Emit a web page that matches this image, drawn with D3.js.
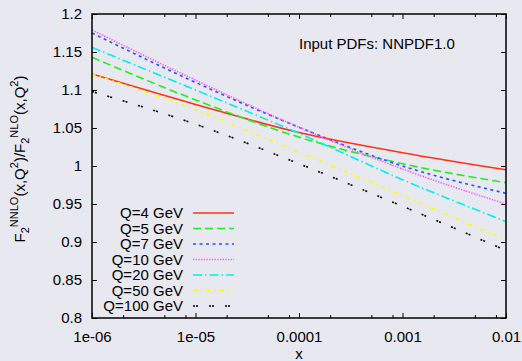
<!DOCTYPE html>
<html>
<head>
<meta charset="utf-8">
<script src="https://cdn.jsdelivr.net/npm/d3@7"></script>
<style>
  body { margin: 0; background: #e8e8f0; }
  svg { display: block; font-family: "Liberation Sans", Arial, Helvetica, sans-serif; }
  .axis path { display: none; }
  .axis line { stroke: #000; stroke-width: 1; }
  .axis text { font-size: 15px; fill: #000; }
</style>
</head>
<body>
<svg id="chart" width="522" height="361"></svg>
<script>
// sample points (x) and ratio values per Q
const xs = [1e-6, 1e-5, 1e-4, 1e-3, 1e-2];
const q4 = [1.121, 1.081, 1.044, 1.0175, 0.995];
const q5 = [1.143, 1.087, 1.038, 1.003, 0.978];
const q7 = [1.175, 1.110, 1.051, 1.000, 0.964];
const q10 = [1.179, 1.113, 1.051, 0.996, 0.950];
const q20 = [1.156, 1.100, 1.043, 0.982, 0.927];
const q50 = [1.121, 1.074, 1.018, 0.961, 0.9026];
const q100 = [1.098, 1.055, 1.003, 0.947, 0.889];

const seriesNames = ["Q=4 GeV", "Q=5 GeV", "Q=7 GeV", "Q=10 GeV", "Q=20 GeV", "Q=50 GeV", "Q=100 GeV"];
const seriesValues = [q4, q5, q7, q10, q20, q50, q100];

const xTicks = [1e-6, 1e-5, 1e-4, 1e-3, 1e-2];
const xTickLabels = ["1e-06", "1e-05", "0.0001", "0.001", "0.01"];
const yTicks = [0.8, 0.85, 0.9, 0.95, 1, 1.05, 1.1, 1.15, 1.2];
const yTickLabels = ["0.8", "0.85", "0.9", "0.95", "1", "1.05", "1.1", "1.15", "1.2"];

const colors = ["#ff3311", "#22ee22", "#2255ff", "#ff55ff", "#00eeee", "#ffff00", "#000000"];
const dashes = ["none", "8,4", "3,3.5", "1.3,1.4", "9,3,1.5,3", "4,4,1.5,4", "2,1,2,11"];

const plotL = 92, plotR = 506, plotT = 14, plotB = 318;
const svg = d3.select("#chart");

const x = d3.scaleLog().domain([1e-6, 1e-2]).range([plotL, plotR]);
const y = d3.scaleLinear().domain([0.8, 1.2]).range([plotB, plotT]);

// minor ticks at 2, 5, 8 within each decade
const minor = [];
for (let e = -6; e < -2; e++) {
  [2, 5, 8].forEach(m => minor.push(m * Math.pow(10, e)));
}

svg.append("g").attr("class", "axis")
  .attr("transform", `translate(0,${plotB})`)
  .call(d3.axisBottom(x).tickValues(xTicks).tickSize(-5).tickPadding(13)
    .tickFormat((d, i) => xTickLabels[i]));
svg.append("g").attr("class", "axis")
  .attr("transform", `translate(0,${plotB})`)
  .call(d3.axisBottom(x).tickValues(minor).tickSize(-3).tickFormat(""));
svg.append("g").attr("class", "axis")
  .attr("transform", `translate(0,${plotT})`)
  .call(d3.axisTop(x).tickValues(xTicks).tickSize(-5).tickFormat(""));
svg.append("g").attr("class", "axis")
  .attr("transform", `translate(0,${plotT})`)
  .call(d3.axisTop(x).tickValues(minor).tickSize(-3).tickFormat(""));

svg.append("g").attr("class", "axis")
  .attr("transform", `translate(${plotL},0)`)
  .call(d3.axisLeft(y).tickValues(yTicks).tickSize(-5).tickPadding(10)
    .tickFormat((d, i) => yTickLabels[i]));
svg.append("g").attr("class", "axis")
  .attr("transform", `translate(${plotR},0)`)
  .call(d3.axisRight(y).tickValues(yTicks).tickSize(-5).tickFormat(""));

// curves
const line = d3.line()
  .x((d, i) => x(xs[i]))
  .y(d => y(d))
  .curve(d3.curveMonotoneX);

svg.append("g")
  .selectAll("path")
  .data(seriesValues)
  .join("path")
  .attr("d", d => line(d))
  .attr("fill", "none")
  .attr("stroke", (d, i) => colors[i])
  .attr("stroke-width", 1.6)
  .attr("stroke-dasharray", (d, i) => dashes[i]);

// legend
const legendY = d3.scalePoint().domain(seriesNames).range([213, 306]);
const legend = svg.append("g");
legend.selectAll("text")
  .data(seriesNames)
  .join("text")
  .attr("x", 183)
  .attr("y", d => legendY(d) + 5)
  .attr("text-anchor", "end")
  .style("font-size", "15px")
  .text(d => d);
legend.selectAll("line")
  .data(seriesNames)
  .join("line")
  .attr("x1", 193).attr("x2", 234)
  .attr("y1", d => legendY(d)).attr("y2", d => legendY(d))
  .attr("stroke", (d, i) => colors[i])
  .attr("stroke-width", 1.6)
  .attr("stroke-dasharray", (d, i) => dashes[i]);

// frame
svg.append("rect")
  .attr("x", plotL).attr("y", plotT)
  .attr("width", plotR - plotL).attr("height", plotB - plotT)
  .attr("fill", "none").attr("stroke", "#000").attr("stroke-width", 1.5);

svg.append("text")
  .attr("x", 299).attr("y", 49)
  .style("font-size", "15px")
  .text("Input PDFs: NNPDF1.0");

svg.append("text")
  .attr("x", (plotL + plotR) / 2).attr("y", 359)
  .attr("text-anchor", "middle")
  .style("font-size", "15px")
  .text("x");

// y label with sub/superscripts
const yl = svg.append("text")
  .attr("transform", "translate(25,159) rotate(-90)")
  .attr("text-anchor", "middle")
  .style("font-size", "15px");
const parts = [
  ["F", 0], ["2", -1], ["NNLO", 1], ["(x,Q", 0], ["2", 1], [")/F", 0],
  ["2", -1], ["NLO", 1], ["(x,Q", 0], ["2", 1], [")", 0]
];
let prev = 0;
parts.forEach(([t, lvl]) => {
  const shift = lvl === 1 ? -7 : lvl === -1 ? 4 : 0;
  yl.append("tspan")
    .attr("dy", shift - prev)
    .style("font-size", lvl === 0 ? "15px" : "11px")
    .text(t);
  prev = shift;
});
</script>
</body>
</html>
